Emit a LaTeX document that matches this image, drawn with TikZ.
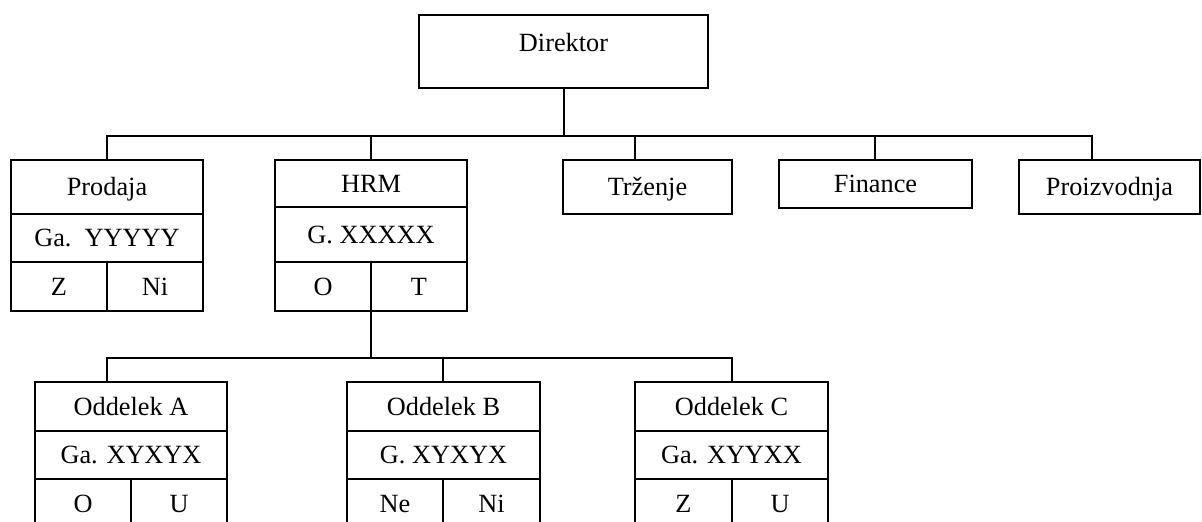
\documentclass[tikz,border=0pt]{standalone}
\usepackage{fontspec}
\setmainfont{Liberation Serif}
\begin{document}
\begin{tikzpicture}[x=1pt,y=-1pt, line width=1.8pt,
  cell/.style={draw, rectangle, inner sep=0pt, outer sep=0pt, text height=17.4pt, text depth=0pt,
    font=\fontsize{26.3}{30}\selectfont},
  link/.style={draw, line width=1.8pt}]
\useasboundingbox (0,0) rectangle (1202,522);

% Director
\node[cell, minimum width=289pt, minimum height=73pt, text depth=18pt] (dir) at (563.5,51.5) {Direktor};

% Prodaja
\node[cell, minimum width=192pt, minimum height=54pt] (prod) at (107,187) {Prodaja};
\node[cell, minimum width=192pt, minimum height=48pt] (prodG) at (107,238) {Ga.\ \ YYYYY};
\node[cell, minimum width=96pt, minimum height=49pt] (prodZ) at (59,286.5) {Z};
\node[cell, minimum width=96pt, minimum height=49pt] (prodN) at (155,286.5) {Ni};

% HRM
\node[cell, minimum width=192pt, minimum height=47pt] (hrm) at (371,183.5) {HRM};
\node[cell, minimum width=192pt, minimum height=55pt] (hrmG) at (371,234.5) {G. XXXXX};
\node[cell, minimum width=96pt, minimum height=49pt] (hrmO) at (323,286.5) {O};
\node[cell, minimum width=96pt, minimum height=49pt] (hrmT) at (419,286.5) {T};

% Others
\node[cell, minimum width=169pt, minimum height=54pt] (trz) at (647.5,187) {Trženje};
\node[cell, minimum width=193pt, minimum height=48pt] (fin) at (875.5,184) {Finance};
\node[cell, minimum width=181pt, minimum height=54pt] (proi) at (1109.5,187) {Proizvodnja};

% Oddelek A
\node[cell, minimum width=192pt, minimum height=49pt] (odA) at (131,406.5) {Oddelek A};
\node[cell, minimum width=192pt, minimum height=48pt] (odAG) at (131,455) {Ga. XYXYX};
\node[cell, minimum width=96pt, minimum height=49pt] (odAO) at (83,503.5) {O};
\node[cell, minimum width=96pt, minimum height=49pt] (odAU) at (179,503.5) {U};

% Oddelek B
\node[cell, minimum width=193pt, minimum height=49pt] (odB) at (443.5,406.5) {Oddelek B};
\node[cell, minimum width=193pt, minimum height=48pt] (odBG) at (443.5,455) {G. XYXYX};
\node[cell, minimum width=96pt, minimum height=49pt] (odBN) at (395,503.5) {Ne};
\node[cell, minimum width=97pt, minimum height=49pt] (odBI) at (491.5,503.5) {Ni};

% Oddelek C
\node[cell, minimum width=193pt, minimum height=49pt] (odC) at (731.5,406.5) {Oddelek C};
\node[cell, minimum width=193pt, minimum height=48pt] (odCG) at (731.5,455) {Ga. XYYXX};
\node[cell, minimum width=97pt, minimum height=49pt] (odCZ) at (683.5,503.5) {Z};
\node[cell, minimum width=96pt, minimum height=49pt] (odCU) at (780,503.5) {U};

% Connectors, level 1
\coordinate (b1) at (564,136);
\coordinate (trzTop) at (635,160);
\coordinate (finTop) at (875,160);
\coordinate (proTop) at (1092,160);
\draw[link] (b1 |- dir.south) -- (b1);
\draw[link] (b1) -| (prod.north);
\draw[link] (b1) -| (hrm.north);
\draw[link] (b1) -| (trzTop);
\draw[link] (b1) -| (finTop);
\draw[link] (b1) -| (proTop);

% Connectors, level 2
\coordinate (b2) at (371,358);
\coordinate (odATop) at (107,382);
\coordinate (odBTop) at (443,382);
\coordinate (odCTop) at (732,382);
\draw[link] (hrmO.south east) -- (b2);
\draw[link] (b2) -| (odATop);
\draw[link] (b2) -| (odBTop);
\draw[link] (b2) -| (odCTop);
\end{tikzpicture}
\end{document}
